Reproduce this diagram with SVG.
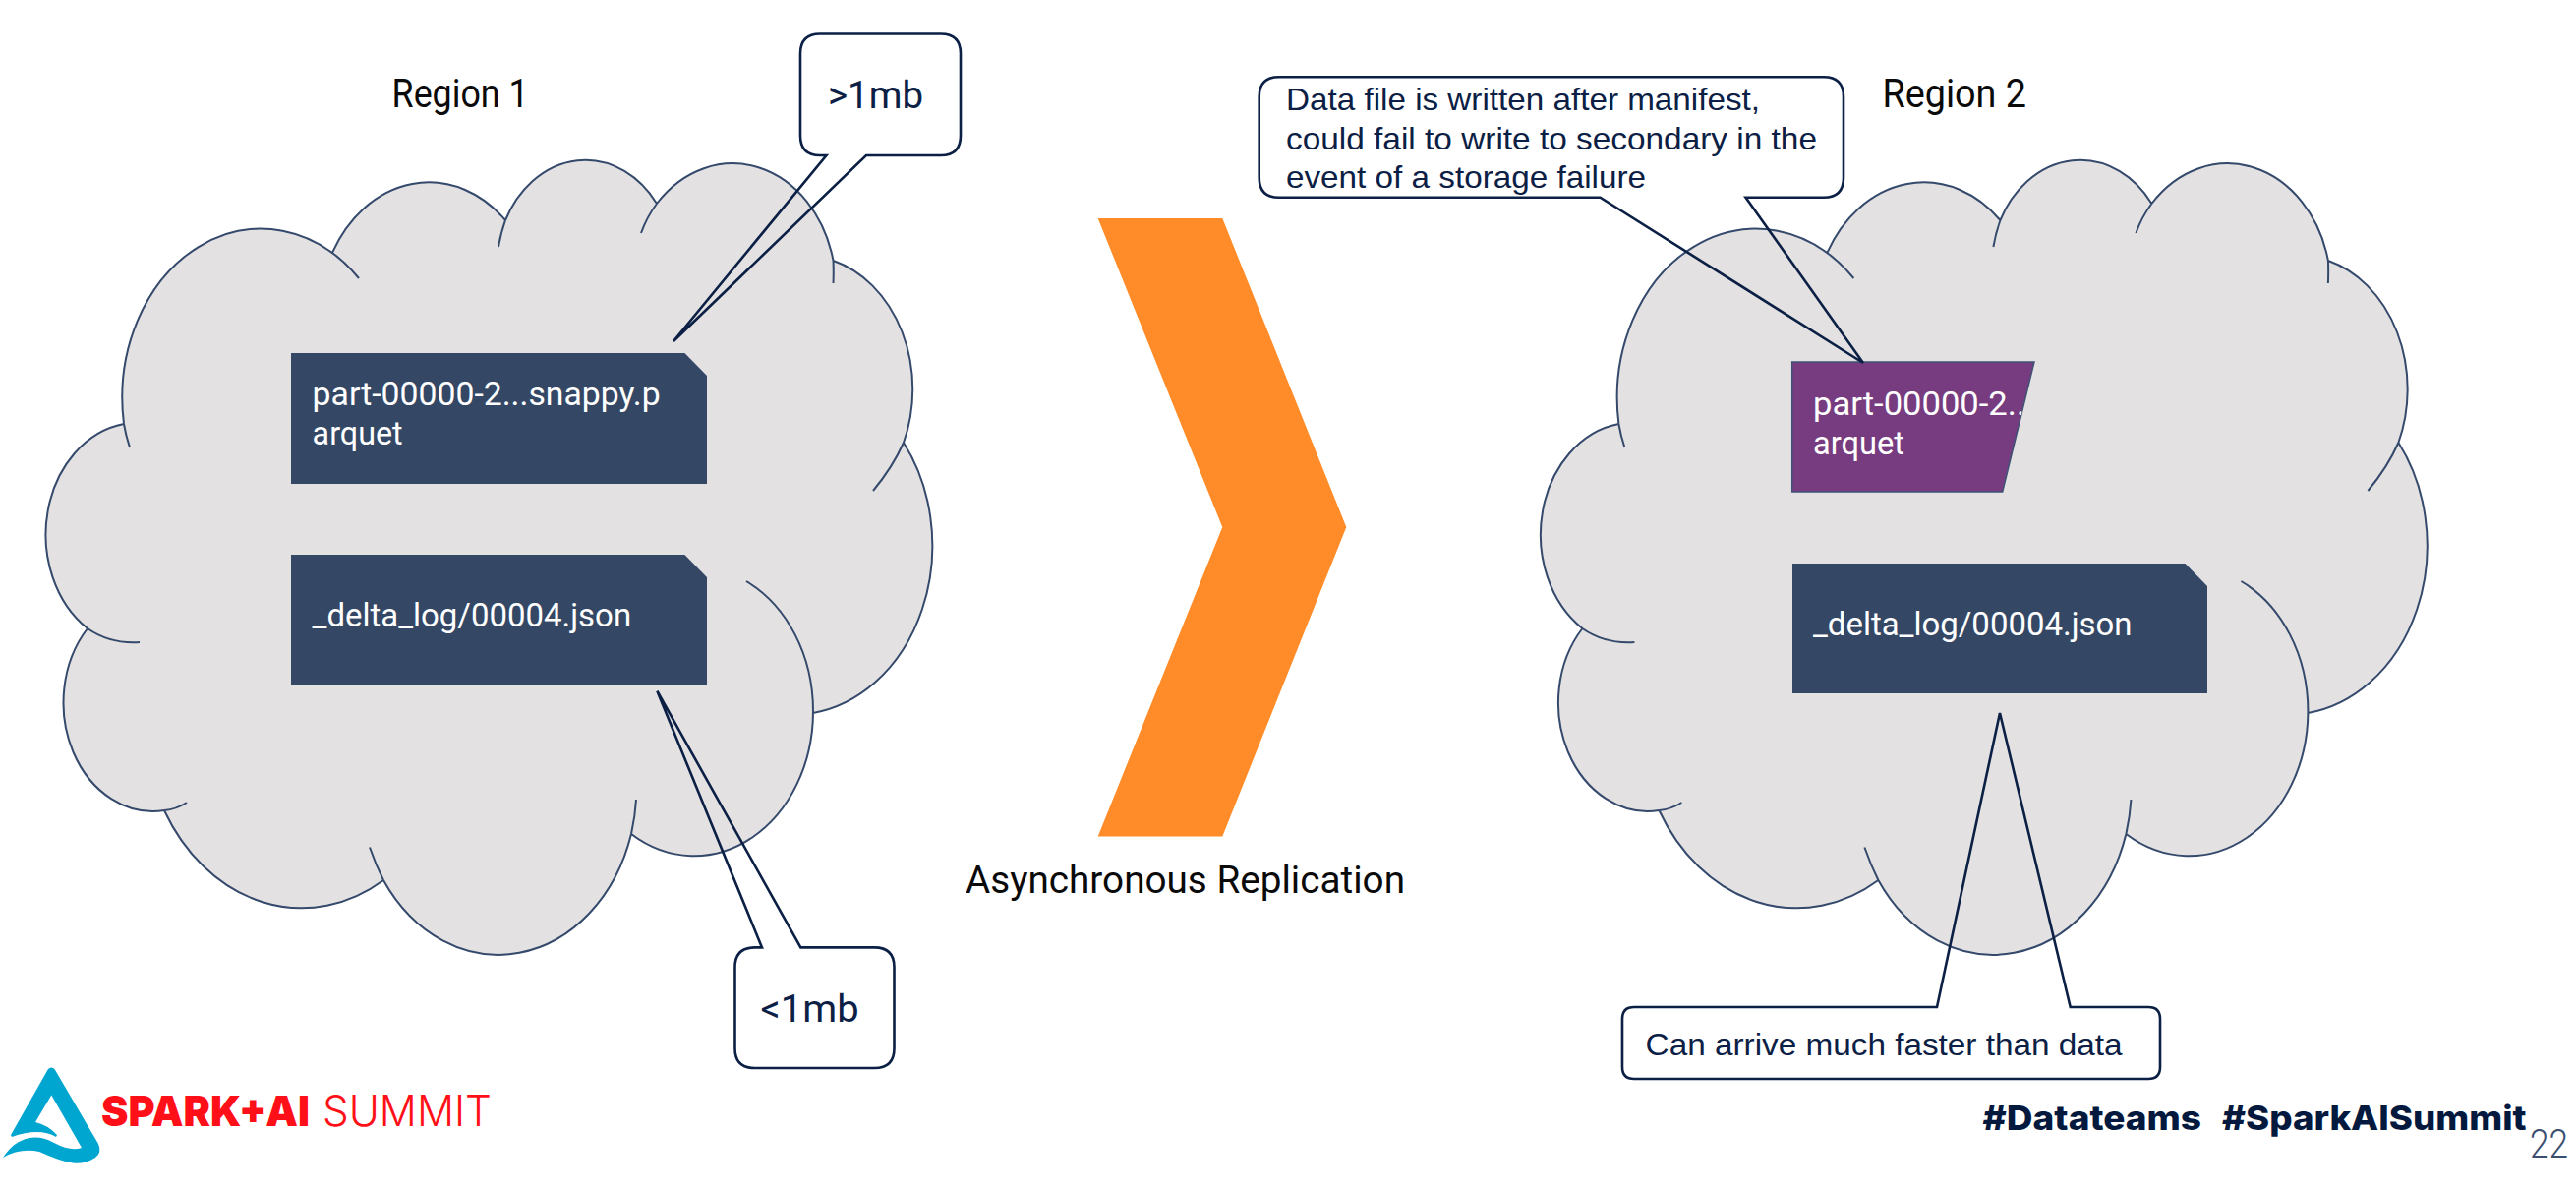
<svg xmlns="http://www.w3.org/2000/svg" width="2620" height="1212" viewBox="0 0 2620 1212">
<style>
.cloud{fill:#E3E1E2;stroke:none}
.cline{fill:none;stroke:#34496B;stroke-width:2}
.call{fill:none;stroke:#0B2044;stroke-width:2.6;stroke-linejoin:miter}
.doc{fill:#344866}
.dt{font-family:Roboto,"Liberation Sans",sans-serif;font-size:33px;fill:#fff}
.rg{font-family:Roboto,"Liberation Sans",sans-serif;font-size:40px;fill:#0a0a0a}
.as{font-family:Roboto,"Liberation Sans",sans-serif;font-size:38px;fill:#0a0a0a}
.mb{font-family:Roboto,"Liberation Sans",sans-serif;font-size:38px;fill:#0B2044}
.ar{font-family:"Liberation Sans",Arial,sans-serif;font-size:32px;fill:#0B2044}
</style>
<defs>
<path id="cloudFill" d="M126,431 A141,172 0 0 1 338,257 A111.5,136 0 0 1 514,224 A91,111 0 0 1 668,207 A105,127 0 0 1 847.5,265 A111.5,136 0 0 1 919,450 A141.6,172 0 0 1 827,725 A121,147 0 0 1 642,848 A141,172 0 0 1 390,895 A161,197 0 0 1 167,824 A91,110.5 0 0 1 89,639 A94,114 0 0 1 126,431 Z"/>
<path id="cloudLine" d="M126,431 A141,172 0 0 1 365,283 M507,251 A111.5,136 0 0 1 514,224 M338,257 A111.5,136 0 0 1 514,224 M652,237 A91,111 0 0 1 668,207 M514,224 A91,111 0 0 1 668,207 M668,207 A105,127 0 0 1 847.5,265 Q848,276 847.5,288 M847.5,265 A111.5,136 0 0 1 919,450 Q908,475 888,499 M919,450 A141.6,172 0 0 1 827,725 M132,455 Q128,443 126,431 M759,591 A121,147 0 0 1 827,723 A121,147 0 0 1 642,848 M647,813 Q646,830 642,848 M642,848 A141,172 0 0 1 390,895 M376,861.5 Q382,879 390,895 M390,895 A161,197 0 0 1 167,824 M190,816 Q179,823 167,824 M167,824 A91,110.5 0 0 1 89,639 M142,653 Q112,655 89,639 M89,639 A94,114 0 0 1 126,431"/>
<clipPath id="pclip"><polygon points="1823,368 2069,368 2036.7,500 1823,500"/></clipPath>
</defs>
<rect width="2620" height="1212" fill="#fff"/>

<g id="cloud-1"><use href="#cloudFill" class="cloud"/><use href="#cloudLine" class="cline"/></g>
<g id="cloud-2" transform="translate(1520.4 0)"><use href="#cloudFill" class="cloud"/><use href="#cloudLine" class="cline"/></g>

<g id="region-1"><text class="rg" x="398.6" y="109" textLength="139" lengthAdjust="spacingAndGlyphs">Region 1</text></g>
<g id="region-2"><text class="rg" x="1914.5" y="109" textLength="146.5" lengthAdjust="spacingAndGlyphs">Region 2</text></g>

<g id="file-data-1">
<polygon class="doc" points="296,359 696.4,359 719,382 719,492 296,492"/>
<text class="dt" x="317.6" y="412" textLength="354" lengthAdjust="spacingAndGlyphs">part-00000-2...snappy.p</text>
<text class="dt" x="317.6" y="452" textLength="92" lengthAdjust="spacingAndGlyphs">arquet</text>
</g>
<g id="file-log-1">
<polygon class="doc" points="296,564 696.4,564 719,587 719,697 296,697"/>
<text class="dt" x="317.6" y="637" textLength="324.5" lengthAdjust="spacingAndGlyphs">_delta_log/00004.json</text>
</g>

<g id="file-data-2">
<polygon points="1822.7,368 2069,368 2036.7,500 1822.7,500" fill="#773C80" stroke="#3F5275" stroke-width="1.5"/>
<g clip-path="url(#pclip)">
<text class="dt" x="1844" y="421.7" textLength="216" lengthAdjust="spacingAndGlyphs">part-00000-2..</text>
</g>
<text class="dt" x="1844" y="461.7" textLength="93" lengthAdjust="spacingAndGlyphs">arquet</text>
</g>
<g id="file-log-2">
<polygon class="doc" points="1823,573 2222.6,573 2245,596 2245,705 1823,705"/>
<text class="dt" x="1844" y="646" textLength="324.5" lengthAdjust="spacingAndGlyphs">_delta_log/00004.json</text>
</g>

<g id="chevron"><polygon points="1116.7,222 1243.3,222 1369.3,536 1243.3,850.4 1116.7,850.4 1243.3,536" fill="#FF8C28"/></g>
<g id="replication-label"><text class="as" x="982" y="908" textLength="447" lengthAdjust="spacingAndGlyphs">Asynchronous Replication</text></g>

<g id="callout-gt1mb">
<path class="call" d="M834,34.5 H957 Q977,34.5 977,54.5 V138 Q977,158 957,158 H881 L685,347 L840.5,158 H834 Q814,158 814,138 V54.5 Q814,34.5 834,34.5 Z"/>
<text class="mb" x="842" y="110" textLength="97" lengthAdjust="spacingAndGlyphs">&gt;1mb</text>
</g>
<g id="callout-lt1mb">
<path class="call" d="M767.5,963.4 H775 L668.4,702.7 L814.4,963.4 H889.5 Q909.5,963.4 909.5,983.4 V1066 Q909.5,1086 889.5,1086 H767.5 Q747.5,1086 747.5,1066 V983.4 Q747.5,963.4 767.5,963.4 Z"/>
<text class="mb" x="773.6" y="1039" textLength="100" lengthAdjust="spacingAndGlyphs">&lt;1mb</text>
</g>
<g id="callout-data-file">
<path class="call" d="M1300.7,78.3 H1855 Q1875,78.3 1875,98.3 V180.7 Q1875,200.7 1855,200.7 H1775.5 L1895,369 L1627.5,200.7 H1300.7 Q1280.7,200.7 1280.7,180.7 V98.3 Q1280.7,78.3 1300.7,78.3 Z"/>
<text class="ar" x="1308" y="112" textLength="482" lengthAdjust="spacingAndGlyphs">Data file is written after manifest,</text>
<text class="ar" x="1308" y="151.7" textLength="540" lengthAdjust="spacingAndGlyphs">could fail to write to secondary in the</text>
<text class="ar" x="1308" y="191" textLength="366" lengthAdjust="spacingAndGlyphs">event of a storage failure</text>
</g>
<g id="callout-faster">
<path class="call" d="M1662,1024 H1970 L2034,725 L2105.7,1024 H2185 Q2197,1024 2197,1036 V1085 Q2197,1097 2185,1097 H1662 Q1650,1097 1650,1085 V1036 Q1650,1024 1662,1024 Z"/>
<text class="ar" x="1673.6" y="1073" textLength="485" lengthAdjust="spacingAndGlyphs">Can arrive much faster than data</text>
</g>

<g id="logo">
<path fill="#00A6D0" d="M49,1087 Q52.3,1084 55.5,1087 L100,1163 Q104,1172 97,1177 Q86,1184 74,1182.5 Q62,1181 40,1171 Q20,1167 3,1177 Q14,1160 30,1157 Q42,1155 55,1162 Q72,1171 83,1167 L52.3,1113.5 L36,1141 Q49,1144 58,1154 L57,1156 Q40,1146 12,1156 L11,1154 Z"/>
<text x="103" y="1145" font-family="Inter,'Liberation Sans',sans-serif" font-weight="900" font-size="43" fill="#FF0F17" textLength="212" lengthAdjust="spacingAndGlyphs">SPARK+AI</text>
<text x="328" y="1145" font-family="Inter,'Liberation Sans',sans-serif" font-weight="300" font-size="43" fill="#FF0F17" textLength="172" lengthAdjust="spacingAndGlyphs">SUMMIT</text>
</g>

<g id="hashtags">
<text x="2016.6" y="1149" font-family="Inter,'Liberation Sans',sans-serif" font-weight="800" font-size="34" fill="#04193E" textLength="222.5" lengthAdjust="spacingAndGlyphs">#Datateams</text>
<text x="2260" y="1149" font-family="Inter,'Liberation Sans',sans-serif" font-weight="800" font-size="34" fill="#04193E" textLength="309.5" lengthAdjust="spacingAndGlyphs">#SparkAISummit</text>
</g>
<g id="page-number"><text x="2573" y="1177" font-family="Roboto,'Liberation Sans',sans-serif" font-weight="300" font-size="40" fill="#3A4F70" textLength="39" lengthAdjust="spacingAndGlyphs">22</text></g>
</svg>
